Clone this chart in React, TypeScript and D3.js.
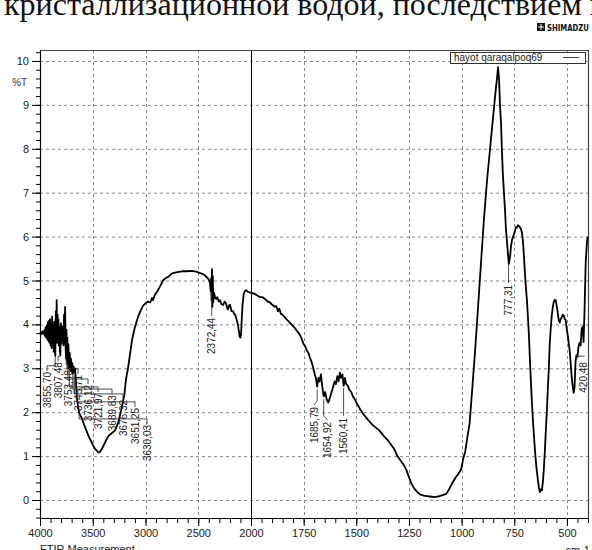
import React, { useEffect, useRef } from "react";
import * as d3 from "d3";

// spectrum: [wavenumber (cm-1), %T]
const spectrumHigh: [number, number][] = [
  [4000, 3.8], [3992, 3.82], [3984, 3.78], [3976, 3.84], [3968, 3.79], [3960, 3.86], [3954, 3.74],
  [3948, 3.93], [3942, 3.7], [3936, 3.97], [3930, 3.66], [3925, 4.05], [3920, 3.62], [3915, 4.08],
  [3910, 3.58], [3905, 4.12], [3900, 3.52], [3895, 4.02], [3890, 3.46], [3885, 4.18], [3880, 3.68],
  [3875, 3.98], [3870, 3.38], [3865, 4.06], [3860, 3.42], [3855, 3.28], [3850, 4.3], [3846, 3.72],
  [3842, 4.55], [3838, 3.58], [3834, 4.22], [3830, 3.66], [3826, 4.12], [3822, 3.52], [3818, 3.95],
  [3812, 3.4], [3807, 3.3], [3802, 4.02], [3797, 3.56], [3792, 3.96], [3787, 3.62], [3782, 3.92],
  [3777, 3.52], [3772, 4.22], [3767, 3.56], [3762, 4.4], [3757, 3.45], [3753, 3.22], [3749, 3.88],
  [3745, 3.18], [3741, 3.7], [3736, 3.08], [3731, 3.55], [3726, 3.02], [3722, 2.98], [3718, 3.35],
  [3712, 2.95], [3707, 3.22], [3700, 2.92], [3695, 3.12], [3689, 2.88], [3683, 3.05], [3676, 2.9],
  [3668, 3.0], [3660, 2.75], [3651, 2.35], [3640, 2.15], [3630, 2.0], [3620, 1.94], [3600, 1.84],
  [3580, 1.7], [3560, 1.58], [3540, 1.46], [3520, 1.36], [3500, 1.26], [3480, 1.17], [3460, 1.12],
  [3445, 1.08], [3430, 1.1], [3410, 1.18], [3390, 1.28], [3370, 1.38], [3350, 1.46], [3320, 1.52],
  [3290, 1.58], [3260, 1.75], [3230, 2.05], [3200, 2.4], [3185, 2.75], [3166, 3.0], [3145, 3.35],
  [3128, 3.64], [3100, 3.94], [3071, 4.17], [3045, 4.32], [3024, 4.42], [3000, 4.48], [2976, 4.52],
  [2955, 4.5], [2938, 4.6], [2929, 4.55], [2910, 4.68], [2891, 4.74], [2863, 4.86], [2834, 5.0],
  [2810, 5.05], [2787, 5.08], [2760, 5.14], [2739, 5.17], [2700, 5.19], [2650, 5.21], [2607, 5.21],
  [2560, 5.22], [2520, 5.2], [2483, 5.17], [2450, 5.14], [2420, 5.08], [2400, 5.02], [2389, 4.95],
  [2382, 4.75], [2378, 5.05], [2374, 4.55], [2370, 5.26], [2366, 4.4], [2362, 5.1], [2358, 4.5],
  [2350, 4.72], [2341, 4.62], [2330, 4.58], [2320, 4.62], [2305, 4.52], [2294, 4.55], [2280, 4.46],
  [2265, 4.44], [2250, 4.52], [2237, 4.48], [2225, 4.36], [2218, 4.34], [2210, 4.42], [2199, 4.45],
  [2185, 4.3], [2171, 4.3], [2160, 4.24], [2150, 4.22], [2135, 4.1], [2125, 4.0], [2115, 3.85],
  [2108, 3.72], [2100, 3.7], [2094, 3.78], [2088, 4.1], [2080, 4.45], [2070, 4.68], [2058, 4.76],
  [2045, 4.78], [2030, 4.74], [2015, 4.73], [2000, 4.72],
];

const spectrumLow: [number, number][] = [
  [1985, 4.7], [1970, 4.66], [1957, 4.62], [1945, 4.62], [1934, 4.58], [1920, 4.52], [1910, 4.5],
  [1898, 4.44], [1887, 4.4], [1880, 4.42], [1872, 4.3], [1866, 4.36], [1858, 4.24], [1850, 4.22],
  [1839, 4.16], [1828, 4.1], [1816, 4.04], [1805, 3.98], [1792, 3.92], [1780, 3.84], [1770, 3.78],
  [1760, 3.68], [1750, 3.55], [1742, 3.5], [1735, 3.4], [1728, 3.36], [1720, 3.24], [1712, 3.14],
  [1705, 3.02], [1698, 2.88], [1692, 2.78], [1686, 2.58], [1680, 2.78], [1675, 2.7], [1668, 2.86],
  [1662, 2.6], [1655, 2.36], [1648, 2.46], [1640, 2.28], [1633, 2.22], [1626, 2.32], [1618, 2.45],
  [1610, 2.58], [1603, 2.7], [1597, 2.64], [1590, 2.82], [1584, 2.7], [1578, 2.9], [1572, 2.78],
  [1566, 2.86], [1560, 2.6], [1554, 2.78], [1548, 2.64], [1540, 2.6], [1532, 2.5], [1524, 2.46],
  [1516, 2.36], [1508, 2.3], [1500, 2.22], [1490, 2.14], [1480, 2.05], [1470, 1.98], [1460, 1.92],
  [1450, 1.86], [1440, 1.8], [1425, 1.72], [1410, 1.66], [1390, 1.58], [1370, 1.46], [1350, 1.36],
  [1335, 1.26], [1320, 1.16], [1305, 1.0], [1290, 0.9], [1275, 0.8], [1262, 0.68], [1250, 0.52],
  [1239, 0.38], [1225, 0.26], [1210, 0.18], [1195, 0.12], [1180, 0.1], [1165, 0.09], [1150, 0.08],
  [1135, 0.07], [1121, 0.07], [1105, 0.09], [1090, 0.11], [1073, 0.14], [1060, 0.24], [1045, 0.38],
  [1030, 0.5], [1015, 0.6], [1002, 0.7], [992, 0.95], [983, 1.1], [972, 1.45], [962, 1.75],
  [950, 2.5], [936, 3.4], [922, 4.4], [908, 5.4], [894, 6.4], [879, 7.3], [865, 8.0], [851, 8.7],
  [837, 9.4], [832, 9.6], [827, 9.86], [822, 9.55], [818, 9.0], [813, 8.6], [809, 8.0], [804, 7.4],
  [799, 7.0], [794, 6.6], [790, 6.2], [785, 5.9], [780, 5.6], [776, 5.38], [770, 5.55], [765, 5.8],
  [761, 5.92], [754, 6.02], [747, 6.12], [742, 6.22], [738, 6.2], [733, 6.26], [728, 6.24],
  [724, 6.22], [719, 6.18], [714, 6.1], [709, 5.9], [704, 5.55], [700, 5.2], [695, 4.85], [690, 4.55],
  [685, 4.15], [681, 3.8], [674, 3.0], [667, 2.28], [660, 1.7], [652, 1.14], [645, 0.75], [638, 0.46],
  [633, 0.28], [629, 0.18], [624, 0.24], [619, 0.22], [614, 0.42], [610, 0.68], [605, 1.1], [600, 1.6],
  [595, 2.05], [591, 2.5], [586, 3.0], [582, 3.53], [577, 3.9], [572, 4.2], [567, 4.4], [563, 4.5],
  [558, 4.56], [553, 4.55], [548, 4.4], [544, 4.28], [539, 4.1], [534, 4.04], [530, 4.12], [525, 4.16],
  [520, 4.22], [515, 4.2], [510, 4.12], [506, 4.1], [501, 3.9], [496, 3.75], [491, 3.55], [487, 3.4],
  [482, 3.1], [478, 2.85], [473, 2.6], [468, 2.44], [464, 2.56], [459, 3.15], [455, 3.3], [450, 3.26],
  [445, 3.5], [440, 3.58], [435, 3.52], [430, 3.9], [425, 3.95], [421, 3.6], [416, 4.4], [411, 5.4],
  [406, 5.8], [402, 6.0],
];

const xMajorTicks = [4000, 3500, 3000, 2500, 2000, 1750, 1500, 1250, 1000, 750, 500];
const yMajorTicks = [0, 1, 2, 3, 4, 5, 6, 7, 8, 9, 10];
const seriesName = "hayot qaraqalpoq69";

// peak picks crowded at the OH region
const clusterPeaks = [3855.7, 3807.48, 3753.48, 3745.71, 3736.12, 3721.97, 3689.83, 3676.32, 3651.25, 3630.03];
const clusterLabels = ["3855,70", "3807,48", "3753,48", "3745,71", "3736,12", "3721,97", "3689,83", "3676,32", "3651,25", "3630,03"];
const clusterLabelTops = [2.92, 3.14, 2.96, 2.85, 2.62, 2.44, 2.39, 2.28, 2.1, 1.71];

const singlePeaks = [2372.44, 1685.79, 1654.92, 1560.41, 777.31, 420.48];
const singleLabels = ["2372,44", "1685,79", "1654,92", "1560,41", "777,31", "420,48"];
const singleLabelTops = [4.15, 2.12, 1.78, 1.87, 4.9, 3.14];

const FONT = "'Liberation Sans', Arial, sans-serif";

function Spectrum() {
  const ref = useRef<SVGSVGElement>(null);

  useEffect(() => {
    const svg = d3.select(ref.current);
    svg.selectAll("*").remove();

    const margin = { top: 50, left: 40 };
    const bottom = 518;

    // FTIR style axis: 2x expansion below 2000 cm-1
    const x = d3.scaleLinear().domain([4000, 2000, 400]).range([40, 251, 588]);
    const y = d3.scaleLinear().domain([-0.41, 10.25]).range([bottom, margin.top]);
    const right = x(400);

    const spectrum = spectrumHigh.concat(spectrumLow);

    // header text (cut by the page edge) and logo
    svg.append("text")
      .attr("x", 4).attr("y", 15)
      .attr("font-family", "'Liberation Serif', 'Times New Roman', serif")
      .attr("font-size", 32)
      .attr("fill", "#111")
      .text("кристаллизационной водой, последствием в");

    svg.append("rect").attr("x", 537).attr("y", 23).attr("width", 8).attr("height", 8).attr("fill", "#111");
    svg.append("path").attr("d", "M541,24V30M538,27H544").attr("stroke", "#fff").attr("stroke-width", 1);
    svg.append("text")
      .attr("x", 547).attr("y", 31)
      .attr("font-family", "'DejaVu Sans', sans-serif")
      .attr("font-weight", "bold")
      .attr("font-size", 9)
      .attr("textLength", 42)
      .attr("lengthAdjust", "spacingAndGlyphs")
      .attr("fill", "#111")
      .text("SHIMADZU");

    // grid
    const grid = svg.append("g").attr("stroke", "#8a8a8a").attr("stroke-dasharray", "3,3").attr("stroke-width", 1);
    grid.selectAll("line.h")
      .data(yMajorTicks)
      .enter().append("line")
      .attr("x1", margin.left).attr("x2", right)
      .attr("y1", d => y(d) + 0.5).attr("y2", d => y(d) + 0.5);
    grid.selectAll("line.v")
      .data(xMajorTicks.filter(d => d !== 4000 && d !== 2000))
      .enter().append("line")
      .attr("x1", d => Math.round(x(d)) + 0.5).attr("x2", d => Math.round(x(d)) + 0.5)
      .attr("y1", margin.top).attr("y2", bottom);

    // scale break line at 2000
    svg.append("line")
      .attr("x1", Math.round(x(2000)) + 0.5).attr("x2", Math.round(x(2000)) + 0.5)
      .attr("y1", margin.top).attr("y2", bottom)
      .attr("stroke", "#000").attr("stroke-width", 1);

    // frame
    svg.append("path")
      .attr("d", `M${margin.left + 0.5},${bottom}V${margin.top + 0.5}H${right + 0.5}V${bottom + 0.5}`)
      .attr("fill", "none").attr("stroke", "#444").attr("stroke-width", 1.2);
    svg.append("line")
      .attr("x1", margin.left).attr("x2", right + 1)
      .attr("y1", bottom + 0.5).attr("y2", bottom + 0.5)
      .attr("stroke", "#000").attr("stroke-width", 1.2);

    // y axis
    const yMinor = d3.range(-0.4, 10.21, 0.2).map(v => Math.round(v * 10) / 10);
    svg.append("g")
      .attr("transform", `translate(${margin.left},0)`)
      .call(d3.axisLeft(y).tickValues(yMinor).tickSize(4).tickFormat(() => ""))
      .call(g => g.select(".domain").remove())
      .selectAll("line").attr("stroke", "#000");
    const yAx = svg.append("g")
      .attr("transform", `translate(${margin.left},0)`)
      .call(d3.axisLeft(y).tickValues(yMajorTicks).tickSize(8).tickPadding(3).tickFormat(d3.format("d")))
      .call(g => g.select(".domain").attr("stroke", "#000").attr("d", `M0.5,${margin.top}V${bottom}`));
    yAx.selectAll("line").attr("stroke", "#000");
    yAx.selectAll("text").attr("font-family", FONT).attr("font-size", 11).attr("fill", "#222");

    svg.append("text")
      .attr("x", 12).attr("y", 86)
      .attr("font-family", FONT).attr("font-size", 10)
      .call(t => {
        t.append("tspan").attr("fill", "#333").text("%");
        t.append("tspan").attr("fill", "#4a2a78").text("T");
      });

    // x axis
    const xMinor = d3.range(4000, 2000, -100).concat(d3.range(2000, 399, -50));
    svg.append("g")
      .attr("transform", `translate(0,${bottom})`)
      .call(d3.axisBottom(x).tickValues(xMinor).tickSize(5).tickFormat(() => ""))
      .call(g => g.select(".domain").remove())
      .selectAll("line").attr("stroke", "#000");
    const xAx = svg.append("g")
      .attr("transform", `translate(0,${bottom})`)
      .call(d3.axisBottom(x).tickValues(xMajorTicks).tickSize(8).tickPadding(3).tickFormat(d3.format("d")))
      .call(g => g.select(".domain").remove());
    xAx.selectAll("line").attr("stroke", "#000");
    xAx.selectAll("text").attr("font-family", FONT).attr("font-size", 11).attr("fill", "#222");

    svg.append("text")
      .attr("x", 40).attr("y", 553)
      .attr("font-family", FONT).attr("font-size", 11).attr("fill", "#222")
      .text("FTIR Measurement");
    svg.append("text")
      .attr("x", 590).attr("y", 554).attr("text-anchor", "end")
      .attr("font-family", FONT).attr("font-size", 11).attr("fill", "#222")
      .text("cm-1");

    // spectrum
    const line = d3.line<[number, number]>()
      .x(d => x(d[0]))
      .y(d => y(d[1]));
    svg.append("path")
      .datum(spectrum)
      .attr("d", line)
      .attr("fill", "none")
      .attr("stroke", "#000")
      .attr("stroke-width", 1.8)
      .attr("stroke-linejoin", "round");

    // interpolate %T at a wavenumber (data is descending)
    const tAt = (wn: number) => {
      for (let i = 1; i < spectrum.length; i++) {
        const a = spectrum[i - 1], b = spectrum[i];
        if (wn <= a[0] && wn >= b[0]) {
          const k = (a[0] - wn) / (a[0] - b[0]);
          return a[1] + (b[1] - a[1]) * k;
        }
      }
      return 0;
    };

    const labels = svg.append("g");
    const addLabel = (lx: number, ly: number, text: string) => {
      labels.append("text")
        .attr("transform", `translate(${lx},${ly}) rotate(-90)`)
        .attr("text-anchor", "end")
        .attr("dy", "0.35em")
        .attr("font-family", FONT)
        .attr("font-size", 10)
        .attr("fill", "#222")
        .text(text);
    };

    // crowded labels, spread out in columns
    const colX = [47, 58, 68, 78, 88, 98, 112, 123, 135, 147];
    clusterPeaks.forEach((wn, i) => {
      const px = x(wn);
      const py = y(tAt(wn));
      const lx = colX[i];
      const ly = y(clusterLabelTops[i]);
      const elbow = ly - 6;
      labels.append("path")
        .attr("d", `M${px},${Math.min(py + 2, elbow)}V${elbow}H${lx}V${ly - 1}`)
        .attr("fill", "none").attr("stroke", "#222").attr("stroke-width", 0.8);
      addLabel(lx, ly, clusterLabels[i]);
    });

    // small sideways shifts so neighbouring labels don't overlap
    const singleShift = [0, -3, 4, 0, 0, 0];
    singlePeaks.forEach((wn, i) => {
      const px = x(wn);
      const lx = px + singleShift[i];
      const ly = y(singleLabelTops[i]);
      if (wn < 500) {
        labels.append("path")
          .attr("d", `M${px - 7},${ly - 6}H${px + 1}`)
          .attr("stroke", "#222").attr("stroke-width", 0.8);
        addLabel(lx, ly, singleLabels[i]);
        return;
      }
      const py = y(tAt(wn));
      labels.append("path")
        .attr("d", `M${px},${py + 3}V${ly - 6}L${lx},${ly - 2}`)
        .attr("fill", "none")
        .attr("stroke", "#222").attr("stroke-width", 0.8);
      addLabel(lx, ly, singleLabels[i]);
    });

    // legend
    const lg = svg.append("g");
    lg.append("rect")
      .attr("x", 450.5).attr("y", 52.5).attr("width", 135).attr("height", 11)
      .attr("fill", "#fff").attr("stroke", "#333");
    lg.append("text")
      .attr("x", 454).attr("y", 61)
      .attr("font-family", FONT).attr("font-size", 10).attr("fill", "#222")
      .text(seriesName);
    lg.append("line")
      .attr("x1", 563).attr("x2", 579).attr("y1", 57.5).attr("y2", 57.5)
      .attr("stroke", "#444").attr("stroke-width", 1);
  }, []);

  return (
    <svg
      ref={ref}
      width={592}
      height={550}
      style={{ position: "absolute", left: 0, top: 0, background: "#fff" }}
    />
  );
}

export default function App() {
  return <Spectrum />;
}
